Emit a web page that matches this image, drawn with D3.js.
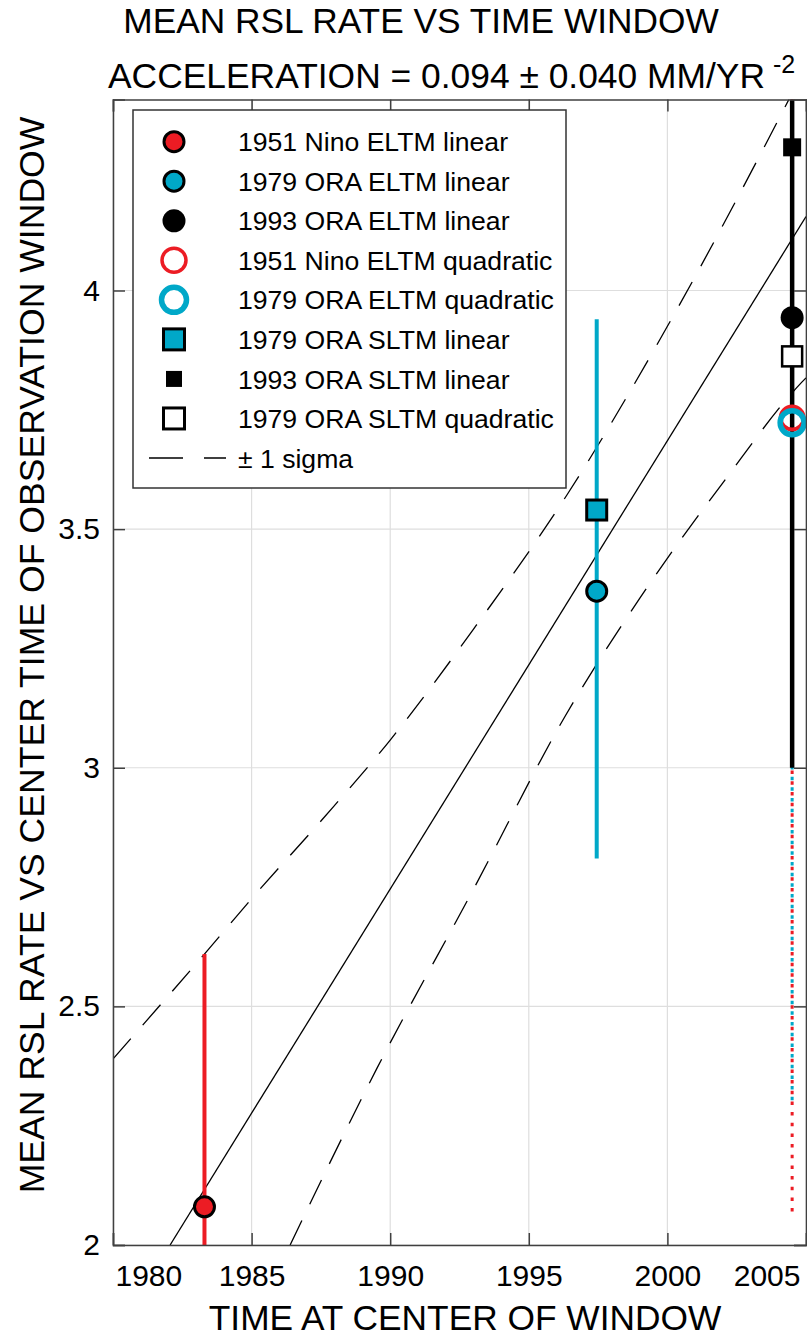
<!DOCTYPE html>
<html lang="en">
<head>
    <meta charset="UTF-8">
    <title>Mean RSL rate vs time window</title>
    <script src="https://cdn.jsdelivr.net/npm/d3@7"></script>
    <style>
        body { margin: 0; background: #fff; }
        text { font-family: "Liberation Sans", Arial, Helvetica, sans-serif; fill: #000; }
    </style>
</head>
<body>
<script>

    // ---- data ----
    var seriesNames = [
        "1951 Nino ELTM linear",
        "1979 ORA ELTM linear",
        "1993 ORA ELTM linear",
        "1951 Nino ELTM quadratic",
        "1979 ORA ELTM quadratic",
        "1979 ORA SLTM linear",
        "1993 ORA SLTM linear",
        "1979 ORA SLTM quadratic"
    ];
    // time at center of window
    var pointYears = [1983.3, 1997.45, 2004.5, 2004.5, 2004.5, 1997.45, 2004.5, 2004.5];
    // mean rsl rate
    var pointRates = [2.08, 3.37, 3.943, 3.733, 3.723, 3.54, 4.30, 3.862];
    // error bars (null = none)
    var errLow  = [1.55, 2.81, 3.00, 2.07, 2.30, null, null, null];
    var errHigh = [2.61, 3.94, 4.89, 5.40, 5.15, null, null, null];

    // fitted line
    var fitYears = [1982.06, 2005];
    var fitRates = [2.0, 4.155];

    // +/- 1 sigma curves
    var upperYears = [1980, 1983.29, 1985.02, 1987.54, 1990, 1993, 1996.38, 2000, 2004.38, 2005];
    var upperRates = [2.39, 2.609, 2.727, 2.891, 3.058, 3.29, 3.572, 3.925, 4.40, 4.47];
    var lowerYears = [1986.39, 1989.52, 1993, 1996.32, 1999, 2002, 2004.85, 2005];
    var lowerRates = [2.0, 2.37, 2.745, 3.109, 3.355, 3.597, 3.808, 3.817];

    var xTicks = [1980, 1985, 1990, 1995, 2000, 2005];
    var yTicks = [2, 2.5, 3, 3.5, 4];

    // ---- styles ----
    var RED = "#ec1c24";
    var CYAN = "#00a8c8";
    var markerStyles = [
        {shape: "circle", size: 10,   fill: RED,    stroke: "#000", sw: 3},
        {shape: "circle", size: 10,   fill: CYAN,   stroke: "#000", sw: 3},
        {shape: "circle", size: 11.5, fill: "#000", stroke: "none", sw: 0},
        {shape: "circle", size: 11.5, fill: "none", stroke: RED,    sw: 4},
        {shape: "circle", size: 12,   fill: "none", stroke: CYAN,   sw: 5.5},
        {shape: "square", size: 20,   fill: CYAN,   stroke: "#000", sw: 3},
        {shape: "square", size: 18,   fill: "#000", stroke: "none", sw: 0},
        {shape: "square", size: 20,   fill: "#fff", stroke: "#000", sw: 2.5}
    ];
    var barStyles = [
        {color: RED,    width: 4,   dash: null},
        {color: CYAN,   width: 4,   dash: null},
        {color: "#000", width: 4.5, dash: null},
        {color: RED,    width: 3,   dash: "3.5,7.17"},
        {color: CYAN,   width: 3,   dash: "3.5,7.17"}
    ];
    // draw order for error bars: dotted first
    var barOrder = [3, 4, 2, 0, 1];

    // ---- canvas ----
    var width = 807;
    var height = 1338;
    var plotLeft = 113, plotRight = 806, plotTop = 99.6, plotBottom = 1245;

    var svg = d3.select("body")
        .append("svg")
        .attr("width", width)
        .attr("height", height);

    svg.append("rect")
        .attr("width", width)
        .attr("height", height)
        .attr("fill", "#fff");

    var x = d3.scaleLinear().domain([1980, 2005]).range([plotLeft, plotRight]);
    var y = d3.scaleLinear().domain([2, 4.4]).range([plotBottom, plotTop]);

    svg.append("clipPath")
        .attr("id", "plotclip")
        .append("rect")
        .attr("x", plotLeft)
        .attr("y", plotTop)
        .attr("width", plotRight - plotLeft)
        .attr("height", plotBottom - plotTop);

    // grid lines
    var grid = svg.append("g").attr("stroke", "#dedede").attr("stroke-width", 1.2);
    grid.selectAll("line.gx")
        .data(xTicks)
        .enter()
        .append("line")
        .attr("x1", function (d) { return x(d); })
        .attr("x2", function (d) { return x(d); })
        .attr("y1", plotTop)
        .attr("y2", plotBottom);
    grid.selectAll("line.gy")
        .data(yTicks)
        .enter()
        .append("line")
        .attr("x1", plotLeft)
        .attr("x2", plotRight)
        .attr("y1", function (d) { return y(d); })
        .attr("y2", function (d) { return y(d); });

    // fit line and sigma curves
    var plot = svg.append("g").attr("clip-path", "url(#plotclip)");

    var straight = d3.line()
        .x(function (d) { return x(d[0]); })
        .y(function (d) { return y(d[1]); });
    var smooth = d3.line()
        .x(function (d) { return x(d[0]); })
        .y(function (d) { return y(d[1]); })
        .curve(d3.curveMonotoneX);

    plot.append("path")
        .attr("d", straight(d3.zip(fitYears, fitRates)))
        .attr("fill", "none")
        .attr("stroke", "#000")
        .attr("stroke-width", 1.3);

    plot.append("path")
        .attr("d", smooth(d3.zip(upperYears, upperRates)))
        .attr("fill", "none")
        .attr("stroke", "#000")
        .attr("stroke-width", 1.3)
        .attr("stroke-dasharray", "27,18");

    plot.append("path")
        .attr("d", smooth(d3.zip(lowerYears, lowerRates)))
        .attr("fill", "none")
        .attr("stroke", "#000")
        .attr("stroke-width", 1.3)
        .attr("stroke-dasharray", "27,18");

    // error bars
    barOrder.forEach(function (i) {
        var st = barStyles[i];
        var bar = plot.append("line")
            .attr("x1", x(pointYears[i]))
            .attr("x2", x(pointYears[i]))
            .attr("y1", y(errLow[i]))
            .attr("y2", y(errHigh[i]))
            .attr("stroke", st.color)
            .attr("stroke-width", st.width);
        if (st.dash) {
            bar.attr("stroke-dasharray", st.dash);
            if (i === 4) bar.attr("stroke-dashoffset", -1.6);
        }
    });

    // markers
    function drawMarker(g, st, cx, cy) {
        if (st.shape === "circle") {
            g.append("circle")
                .attr("cx", cx)
                .attr("cy", cy)
                .attr("r", st.size)
                .attr("fill", st.fill)
                .attr("stroke", st.stroke)
                .attr("stroke-width", st.sw);
        } else {
            g.append("rect")
                .attr("x", cx - st.size / 2)
                .attr("y", cy - st.size / 2)
                .attr("width", st.size)
                .attr("height", st.size)
                .attr("fill", st.fill)
                .attr("stroke", st.stroke)
                .attr("stroke-width", st.sw);
        }
    }

    var marks = svg.append("g");
    for (var i = 0; i < seriesNames.length; i++) {
        drawMarker(marks, markerStyles[i], x(pointYears[i]), y(pointRates[i]));
    }

    // axes box with inward ticks
    var axisColor = "#404040";
    var xAxis = d3.axisBottom(x).tickValues(xTicks).tickSize(-12).tickPadding(20).tickFormat(d3.format("d"));
    var yAxis = d3.axisLeft(y).tickValues(yTicks).tickSize(-12).tickPadding(13).tickFormat(function (d) { return String(d); });

    var gx = svg.append("g").attr("transform", "translate(0," + plotBottom + ")").call(xAxis);
    var gy = svg.append("g").attr("transform", "translate(" + plotLeft + ",0)").call(yAxis);
    var gxt = svg.append("g").attr("transform", "translate(0," + plotTop + ")")
        .call(d3.axisTop(x).tickValues(xTicks).tickSize(-12).tickFormat(""));
    var gyr = svg.append("g").attr("transform", "translate(" + plotRight + ",0)")
        .call(d3.axisRight(y).tickValues(yTicks).tickSize(-12).tickFormat(""));

    [gx, gy, gxt, gyr].forEach(function (g) {
        g.select(".domain").attr("stroke", axisColor).attr("stroke-width", 1.5);
        g.selectAll(".tick line").attr("stroke", axisColor).attr("stroke-width", 1.5);
    });
    gx.selectAll(".tick text").attr("font-size", 30).attr("fill", "#000");
    gy.selectAll(".tick text").attr("font-size", 30).attr("fill", "#000");

    // end labels are pulled inside the box
    gx.selectAll(".tick text")
        .filter(function (d) { return d === 1980; })
        .attr("text-anchor", "start")
        .attr("x", 2);
    gx.selectAll(".tick text")
        .filter(function (d) { return d === 2005; })
        .attr("text-anchor", "end")
        .attr("x", -6);

    // titles
    svg.append("text")
        .attr("x", 421)
        .attr("y", 33)
        .attr("text-anchor", "middle")
        .attr("font-size", 35.3)
        .text("MEAN RSL RATE VS TIME WINDOW");

    var sub = svg.append("text")
        .attr("x", 108)
        .attr("y", 87.5)
        .attr("font-size", 35.4);
    sub.append("tspan").text("ACCELERATION = 0.094 \u00b1 0.040 MM/YR");
    sub.append("tspan")
        .attr("font-size", 25)
        .attr("dx", 8)
        .attr("dy", -15)
        .text("-2");

    svg.append("text")
        .attr("x", 465)
        .attr("y", 1330)
        .attr("text-anchor", "middle")
        .attr("font-size", 35.3)
        .text("TIME AT CENTER OF WINDOW");

    svg.append("text")
        .attr("transform", "translate(44,655) rotate(-90)")
        .attr("text-anchor", "middle")
        .attr("font-size", 35.6)
        .text("MEAN RSL RATE VS CENTER TIME OF OBSERVATION WINDOW");

    // legend
    var legend = svg.append("g");
    legend.append("rect")
        .attr("x", 133)
        .attr("y", 110)
        .attr("width", 433)
        .attr("height", 378)
        .attr("fill", "#fff")
        .attr("stroke", "#333")
        .attr("stroke-width", 1.5);

    var rowY = d3.scaleLinear().domain([0, 8]).range([141.7, 458]);

    var legendStyles = markerStyles.map(function (st, i) {
        // legend markers are a bit smaller than the plotted ones
        var s = Object.assign({}, st);
        if (i === 3) { s.size = 12; s.sw = 3.5; }
        if (i === 4) { s.size = 12.5; s.sw = 5.5; }
        if (i === 6) { s.size = 16; }
        if (i === 7) { s.size = 21; s.sw = 3; }
        if (i === 5) { s.size = 21; }
        return s;
    });

    seriesNames.forEach(function (name, i) {
        drawMarker(legend, legendStyles[i], 174, rowY(i));
        legend.append("text")
            .attr("x", 238)
            .attr("y", rowY(i))
            .attr("dy", "0.36em")
            .attr("font-size", 26.6)
            .text(name);
    });

    legend.append("line")
        .attr("x1", 149)
        .attr("x2", 226)
        .attr("y1", rowY(8))
        .attr("y2", rowY(8))
        .attr("stroke", "#000")
        .attr("stroke-width", 1.3)
        .attr("stroke-dasharray", "34,21");
    legend.append("text")
        .attr("x", 238)
        .attr("y", rowY(8))
        .attr("dy", "0.36em")
        .attr("font-size", 26.6)
        .text("\u00b1 1 sigma");

</script>
</body>
</html>
